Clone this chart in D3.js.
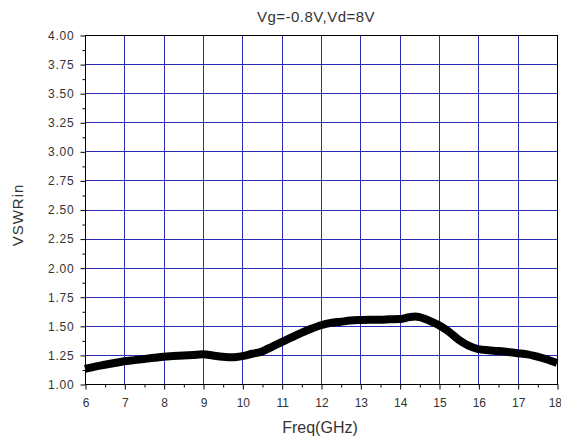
<!DOCTYPE html>
<html>
<head>
<meta charset="utf-8">
<script src="https://cdn.jsdelivr.net/npm/d3@7"></script>
<style>
html,body{margin:0;padding:0;background:#fff;}
svg{display:block;font-family:"Liberation Sans",Arial,sans-serif;}
</style>
</head>
<body>
<svg id="chart" width="561" height="440"></svg>
<script>
const title = "Vg=-0.8V,Vd=8V";
const xLabel = "Freq(GHz)";
const yLabel = "VSWRin";
const freq = [6.0,6.25,6.5,6.75,7.0,7.25,7.5,7.75,8.0,8.25,8.5,8.75,9.0,9.25,9.5,9.75,10.0,10.25,10.5,10.75,11.0,11.25,11.5,11.75,12.0,12.25,12.5,12.75,13.0,13.25,13.5,13.75,14.0,14.25,14.4,14.5,14.75,15.0,15.25,15.5,15.75,16.0,16.25,16.5,16.75,17.0,17.25,17.5,17.75,18.0];
const vswr = [1.13,1.15,1.165,1.18,1.195,1.205,1.215,1.225,1.235,1.24,1.245,1.25,1.255,1.245,1.235,1.23,1.24,1.26,1.28,1.32,1.36,1.40,1.44,1.475,1.505,1.525,1.535,1.545,1.55,1.553,1.553,1.556,1.558,1.575,1.58,1.575,1.545,1.505,1.45,1.38,1.33,1.30,1.29,1.284,1.275,1.265,1.255,1.235,1.21,1.18];
const xTicks = [6,7,8,9,10,11,12,13,14,15,16,17,18];
const yTicks = [1.00,1.25,1.50,1.75,2.00,2.25,2.50,2.75,3.00,3.25,3.50,3.75,4.00];
const xMinor = [6.5,7.5,8.5,9.5,10.5,11.5,12.5,13.5,14.5,15.5,16.5,17.5];
const yMinor = [1.125,1.375,1.625,1.875,2.125,2.375,2.625,2.875,3.125,3.375,3.625,3.875];

const svg = d3.select("#chart");
const L = 85, R = 557, T = 35, B = 384;
const x = d3.scaleLinear().domain([6,18]).range([L,R]);
const y = d3.scaleLinear().domain([1,4]).range([B,T]);
const gridColor = "#2b2bb5";
const textColor = "#333";
const tickFont = "Liberation Sans, Arial, sans-serif";

// grid
svg.append("g").selectAll("line").data(xTicks.slice(1,-1)).join("line")
  .attr("x1",d=>Math.round(x(d))+0.5).attr("x2",d=>Math.round(x(d))+0.5).attr("y1",T).attr("y2",B)
  .attr("stroke",gridColor).attr("stroke-width",1);
svg.append("g").selectAll("line").data(yTicks.slice(1,-1)).join("line")
  .attr("y1",d=>Math.round(y(d))+0.5).attr("y2",d=>Math.round(y(d))+0.5).attr("x1",L).attr("x2",R)
  .attr("stroke",gridColor).attr("stroke-width",1);

// data curve
const line = d3.line().x((d,i)=>x(freq[i])).y(d=>y(d)).curve(d3.curveMonotoneX);
svg.append("path").datum(vswr).attr("d",line)
  .attr("fill","none").attr("stroke","#000").attr("stroke-width",8).attr("stroke-linecap","butt").attr("stroke-linejoin","round");

// frame
svg.append("rect").attr("x",L+0.5).attr("y",T+0.5).attr("width",R-L).attr("height",B-T)
  .attr("fill","none").attr("stroke","#000").attr("stroke-width",1);

// axes
const xAxis = d3.axisBottom(x).tickValues(xTicks).tickFormat(d3.format("d")).tickSize(5).tickPadding(9);
const gx = svg.append("g").attr("transform",`translate(0.5,${B+0.5})`).call(xAxis);
gx.select(".domain").remove();
gx.selectAll("text").attr("fill",textColor).attr("font-size",12).attr("font-family",tickFont);
gx.selectAll(".tick").filter(d=>d===18).select("text").attr("text-anchor","end").attr("x",4);
gx.selectAll("line").attr("stroke","#000");
const gxm = svg.append("g").attr("transform",`translate(0.5,${B+0.5})`)
  .call(d3.axisBottom(x).tickValues(xMinor).tickFormat("").tickSize(3));
gxm.select(".domain").remove();

const yAxis = d3.axisLeft(y).tickValues(yTicks).tickFormat(d3.format(".2f")).tickSize(5).tickPadding(6);
const gy = svg.append("g").attr("transform",`translate(${L+0.5},0.5)`).call(yAxis);
gy.select(".domain").remove();
gy.selectAll("text").attr("fill",textColor).attr("font-size",12).attr("letter-spacing",0.8).attr("font-family",tickFont);
gy.selectAll("line").attr("stroke","#000");
const gym = svg.append("g").attr("transform",`translate(${L+0.5},0.5)`)
  .call(d3.axisLeft(y).tickValues(yMinor).tickFormat("").tickSize(3));
gym.select(".domain").remove();

// texts
svg.append("text").attr("x",316).attr("y",22).attr("text-anchor","middle")
  .attr("font-size",15).attr("letter-spacing",0.5).attr("fill",textColor).text(title);
svg.append("text").attr("x",320).attr("y",433).attr("text-anchor","middle")
  .attr("font-size",16).attr("fill",textColor).text(xLabel);
svg.append("text").attr("transform","translate(23,215) rotate(-90)").attr("text-anchor","middle")
  .attr("font-size",15).attr("letter-spacing",1).attr("fill",textColor).text(yLabel);
</script>
</body>
</html>
